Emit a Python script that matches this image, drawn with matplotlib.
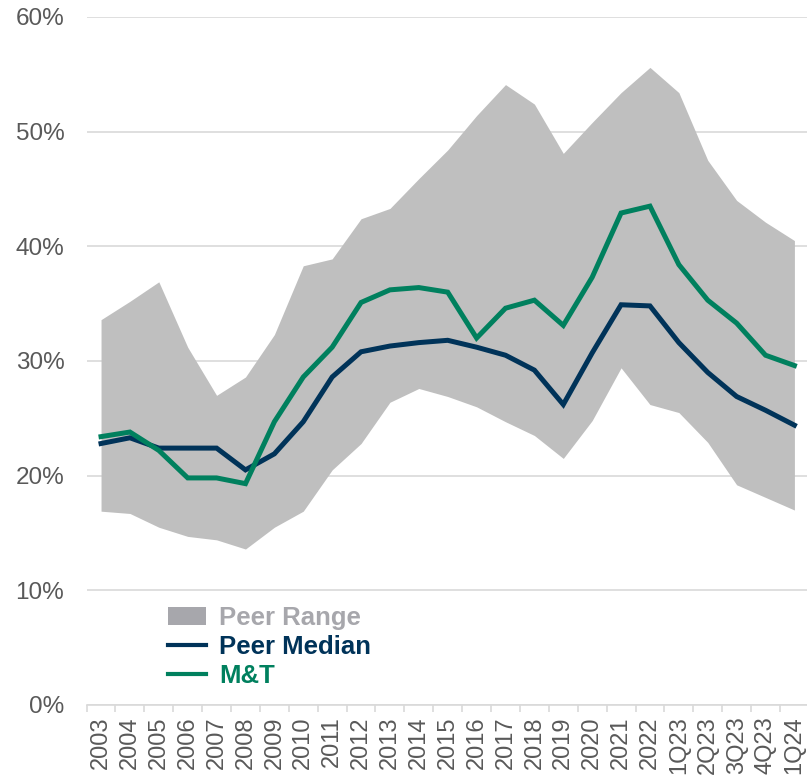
import numpy as np
import matplotlib
matplotlib.use("Agg")
import matplotlib.pyplot as plt
from matplotlib.patches import Patch
from matplotlib.lines import Line2D
from matplotlib.ticker import MultipleLocator, FuncFormatter

# Data (in %)
periods = ["2003", "2004", "2005", "2006", "2007", "2008", "2009", "2010",
           "2011", "2012", "2013", "2014", "2015", "2016", "2017", "2018",
           "2019", "2020", "2021", "2022", "1Q23", "2Q23", "3Q23", "4Q23", "1Q24"]

peer_high = [33.6, 35.2, 36.9, 31.2, 27.0, 28.6, 32.3, 38.3, 38.9, 42.4,
             43.3, 45.9, 48.4, 51.4, 54.1, 52.4, 48.1, 50.8, 53.4, 55.6,
             53.4, 47.5, 44.0, 42.1, 40.5]
peer_low = [16.9, 16.7, 15.5, 14.7, 14.4, 13.6, 15.5, 16.9, 20.5, 22.8,
            26.4, 27.6, 26.9, 26.0, 24.7, 23.5, 21.5, 24.8, 29.4, 26.2,
            25.5, 22.9, 19.2, 18.1, 17.0]
peer_median = [22.8, 23.3, 22.4, 22.4, 22.4, 20.5, 21.9, 24.7, 28.6, 30.8,
               31.3, 31.6, 31.8, 31.2, 30.5, 29.2, 26.2, 30.7, 34.9, 34.8,
               31.6, 29.0, 26.9, 25.7, 24.4]
mtb = [23.4, 23.8, 22.2, 19.8, 19.8, 19.3, 24.7, 28.6, 31.2, 35.1,
       36.2, 36.4, 36.0, 32.0, 34.6, 35.3, 33.1, 37.3, 42.9, 43.5,
       38.4, 35.3, 33.3, 30.5, 29.6]

# Colors
RANGE_COLOR = "#BFBFBF"
RANGE_LEGEND = "#A7A7AC"
NAVY = "#003359"
GREEN = "#00805E"
GRID = "#D9D9D9"
TICK_TEXT = "#595959"

plt.rcParams["font.family"] = ["Liberation Sans", "DejaVu Sans"]

fig = plt.figure(figsize=(8.07, 7.77), dpi=100)
ax = fig.add_axes([0.1073, 0.0927, 0.895, 0.8855])

x = np.arange(len(periods))
ax.fill_between(x, peer_low, peer_high, color=RANGE_COLOR, linewidth=0, zorder=1)
ax.plot(x, peer_median, color=NAVY, linewidth=3.6, solid_joinstyle="miter", zorder=3)
ax.plot(x, mtb, color=GREEN, linewidth=3.6, solid_joinstyle="miter", zorder=3)

ax.set_xlim(-0.5, len(periods) - 0.5)
ax.set_ylim(0, 60)

# y axis
ax.yaxis.set_major_locator(MultipleLocator(10))
ax.yaxis.set_major_formatter(FuncFormatter(lambda v, p: f"{v:.0f}%"))
ax.grid(axis="y", color=GRID, linewidth=1.2, zorder=0)
ax.set_axisbelow(True)
ax.tick_params(axis="y", length=0, pad=16, labelsize=17.5, labelcolor=TICK_TEXT)

# x axis: labels at categories, tick marks between them
ax.set_xticks(x)
ax.set_xticklabels(periods, rotation=90)
ax.set_xticks(np.arange(-0.5, len(periods)), minor=True)
ax.tick_params(axis="x", which="major", length=0, pad=8, labelsize=17,
               labelcolor=TICK_TEXT)
ax.tick_params(axis="x", which="minor", length=5, width=1.2, color=GRID)

for side in ["left", "right", "top"]:
    ax.spines[side].set_visible(False)
ax.spines["bottom"].set_color(GRID)
ax.spines["bottom"].set_linewidth(1.2)

# Legend
handles = [
    Patch(facecolor=RANGE_LEGEND, edgecolor="none"),
    Line2D([0], [0], color=NAVY, linewidth=3),
    Line2D([0], [0], color=GREEN, linewidth=3),
]
labels = ["Peer Range", "Peer Median", "M&T"]
leg = fig.legend(handles, labels, loc="upper left",
                 bbox_to_anchor=(168 / 807, 1 - 606 / 777),
                 bbox_transform=fig.transFigure, frameon=False,
                 borderpad=0, borderaxespad=0, handlelength=1.48,
                 handletextpad=0.5, labelspacing=0.2,
                 prop={"family": "Liberation Sans", "weight": "bold", "size": 18.5})
for text, color in zip(leg.get_texts(), [RANGE_LEGEND, NAVY, GREEN]):
    text.set_color(color)

plt.savefig("out.png", dpi=100)
plt.close()
